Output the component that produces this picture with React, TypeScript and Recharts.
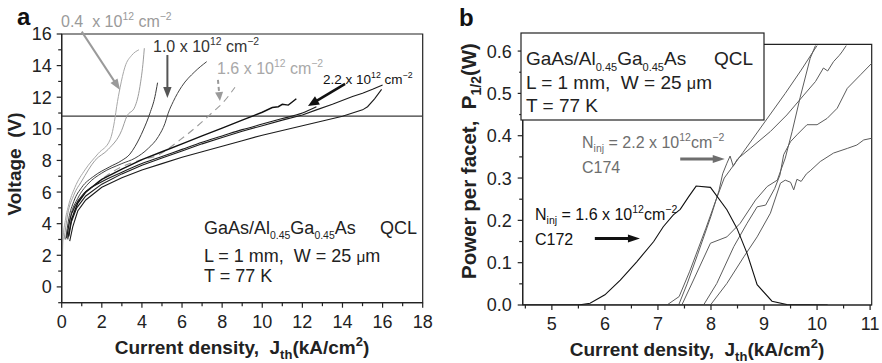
import React from 'react';
import { LineChart, Line, XAxis, YAxis, ReferenceLine, ReferenceArea } from 'recharts';

// ---------- Panel a: voltage vs current density (J in kA/cm², V in volts) ----------
const a04first = [[0.02, 1.0], [0.06, 2.9], [0.18, 4.2], [0.33, 5.1], [0.66, 6.3], [1.16, 7.4], [1.83, 8.45], [2.41, 9.3], [2.66, 10.7], [2.74, 11.4], [2.91, 12.6], [3.15, 13.9], [3.49, 14.65], [3.85, 15.0]];
const a04second = [[0.12, 3.0], [0.3, 4.6], [0.6, 5.8], [1.0, 6.7], [1.66, 8.0], [2.32, 8.7], [2.99, 9.9], [3.24, 10.77], [3.65, 11.4], [3.9, 12.67], [4.07, 14.36], [4.12, 15.1]];
const a10first = [[0.2, 3.0], [0.35, 4.3], [0.6, 5.4], [1.0, 6.3], [1.6, 7.0], [2.4, 7.6], [3.0, 8.0], [3.4, 8.4], [3.65, 8.87], [4.07, 9.93], [4.4, 10.99], [4.65, 12.04], [4.78, 12.92]];
const a10second = [[0.25, 3.1], [0.45, 4.5], [0.8, 5.6], [1.3, 6.5], [2.0, 7.2], [3.0, 7.8], [3.65, 8.14], [4.32, 8.77], [4.82, 9.51], [5.15, 10.35], [5.31, 10.99], [5.56, 11.72], [5.98, 12.67], [6.64, 13.62], [7.23, 14.25]];
const a16 = [[0.3, 3.2], [0.5, 4.5], [0.9, 5.5], [1.5, 6.3], [2.2, 7.0], [3.0, 7.6], [4.0, 8.05], [4.74, 8.3], [5.9, 9.3], [6.73, 10.14], [7.56, 11.09], [8.0, 11.6], [8.64, 12.63]];
const a22first = [[0.35, 3.2], [0.5, 4.3], [0.8, 5.3], [1.2, 6.0], [2, 6.8], [3, 7.45], [4, 8.05], [5, 8.55], [6, 9.05], [7, 9.55], [8, 10.05], [9, 10.55], [10, 11.05], [10.5, 11.35], [10.8, 11.4], [11.0, 11.55], [11.3, 11.5], [11.7, 11.9]];
const a22second = [[0.25, 3.1], [0.4, 4.2], [0.7, 5.2], [1.1, 5.9], [2, 6.65], [3, 7.25], [4, 7.8], [5, 8.25], [6, 8.7], [7, 9.15], [8, 9.55], [9, 9.95], [10, 10.3], [11, 10.65], [12, 11.0], [12.7, 11.4]];
const a22third = [[0.3, 3.0], [0.45, 4.0], [0.75, 5.0], [1.2, 5.75], [2, 6.5], [3, 7.15], [4, 7.7], [5, 8.15], [6, 8.6], [7, 9.05], [8, 9.45], [9, 9.85], [10, 10.2], [11, 10.55], [12, 10.88], [12.7, 11.2], [13.5, 11.55], [14.5, 12.05], [15, 12.25], [15.5, 12.5], [16, 12.78]];
const a22fourth = [[0.4, 2.9], [0.55, 3.8], [0.8, 4.8], [1.2, 5.5], [2, 6.3], [3, 6.9], [4, 7.4], [5, 7.8], [6, 8.2], [7, 8.55], [8, 8.9], [9, 9.25], [10, 9.6], [11, 9.9], [12, 10.2], [13, 10.5], [14, 10.8], [15, 11.2], [15.25, 11.4], [15.6, 11.9], [15.95, 12.5]];
const aThresholdVoltage = 10.8;

const aXTicks = [0, 1, 2, 3, 4, 5, 6, 7, 8, 9, 10, 11, 12, 13, 14, 15, 16, 17, 18];
const aYTicks = [-1, 0, 1, 2, 3, 4, 5, 6, 7, 8, 9, 10, 11, 12, 13, 14, 15, 16];

// ---------- Panel b: power per facet vs current density ----------
const bC172 = [[4.45, 0], [5.5, 0], [5.72, 0.004], [6.0, 0.024], [6.29, 0.059], [6.6, 0.102], [6.92, 0.15], [7.1, 0.185], [7.29, 0.213], [7.42, 0.226], [7.58, 0.256], [7.72, 0.281], [7.99, 0.278], [8.3, 0.225], [8.49, 0.181], [8.68, 0.122], [8.87, 0.048], [9.15, 0.009], [9.43, 0.001], [10.2, 0]];
const bC174first = [[4.45, 0], [7.17, 0], [7.4, 0.02], [7.6, 0.08], [7.9, 0.18], [8.1, 0.25], [8.25, 0.3], [8.6, 0.36], [9.0, 0.43], [9.4, 0.5], [9.7, 0.555], [10.0, 0.613]];
const bC174second = [[4.45, 0], [7.39, 0], [7.55, 0.05], [7.75, 0.12], [8.0, 0.21], [8.15, 0.27], [8.22, 0.31], [8.3, 0.335], [8.36, 0.352], [8.42, 0.328], [8.5, 0.345], [8.74, 0.37], [9.12, 0.41], [9.43, 0.449], [9.75, 0.496], [9.97, 0.528], [10.12, 0.56], [10.2, 0.553], [10.31, 0.575], [10.42, 0.59], [10.47, 0.598], [10.55, 0.613]];
const bC174third = [[4.45, 0], [7.45, 0], [7.67, 0.059], [7.99, 0.146], [8.3, 0.161], [8.55, 0.193], [8.84, 0.248], [9.06, 0.28], [9.25, 0.295], [9.4, 0.347], [9.53, 0.41], [9.68, 0.49], [9.87, 0.583], [9.97, 0.613]];
const bC174fourth = [[4.45, 0], [7.86, 0], [8.11, 0.051], [8.43, 0.138], [8.68, 0.193], [8.87, 0.232], [9.03, 0.236], [9.2, 0.275], [9.3, 0.307], [9.37, 0.355], [9.5, 0.386], [9.62, 0.402], [9.81, 0.426], [10.0, 0.426], [10.19, 0.441], [10.38, 0.465], [10.57, 0.512], [10.82, 0.544], [11.03, 0.571]];
const bC174fifth = [[4.45, 0], [7.99, 0], [8.3, 0.051], [8.62, 0.114], [8.87, 0.161], [9.12, 0.217], [9.31, 0.288], [9.4, 0.295], [9.5, 0.29], [9.56, 0.272], [9.62, 0.297], [9.7, 0.292], [9.8, 0.31], [9.87, 0.317], [10.06, 0.339], [10.31, 0.359], [10.57, 0.37], [10.75, 0.378], [10.88, 0.39], [11.03, 0.394]];

const bXTicks = [4.5, 5, 5.5, 6, 6.5, 7, 7.5, 8, 8.5, 9, 9.5, 10, 10.5, 11];
const bYTicks = [0, 0.05, 0.1, 0.15, 0.2, 0.25, 0.3, 0.35, 0.4, 0.45, 0.5, 0.55, 0.6];

// ---------- layout ----------
const W = 882;
const H = 363;
const FONT = '"Liberation Sans", Arial, Helvetica, sans-serif';
const INK = '#222';
const AXIS_T = 1; // thickness reserved for each axis band

const A_DOM_X: [number, number] = [0, 18];
const A_DOM_Y: [number, number] = [-1, 16];
const A_BOX = { left: 61.7, top: 34, right: 422.7, bottom: 302.7 };
const A_W = 440;

const B_DOM_X: [number, number] = [4.45, 11.03];
const B_DOM_Y: [number, number] = [0, 0.616];
const B_BOX = { left: 522.7, top: 44.3, right: 871.7, bottom: 305 };
const B_LEFT = 440;
const B_W = W - B_LEFT;

type Pt = { x: number; y: number };
const pts = (arr: number[][]): Pt[] => arr.map(([x, y]) => ({ x, y }));

// data -> page pixel helpers for annotation arrows
const mapA = (x: number, y: number) => ({
  px: A_BOX.left + ((x - A_DOM_X[0]) / (A_DOM_X[1] - A_DOM_X[0])) * (A_BOX.right - A_BOX.left),
  py: A_BOX.bottom - ((y - A_DOM_Y[0]) / (A_DOM_Y[1] - A_DOM_Y[0])) * (A_BOX.bottom - A_BOX.top),
});
const mapB = (x: number, y: number) => ({
  px: B_BOX.left + ((x - B_DOM_X[0]) / (B_DOM_X[1] - B_DOM_X[0])) * (B_BOX.right - B_BOX.left),
  py: B_BOX.bottom - ((y - B_DOM_Y[0]) / (B_DOM_Y[1] - B_DOM_Y[0])) * (B_BOX.bottom - B_BOX.top),
});

const near = (v: number, step: number) => Math.abs(v / step - Math.round(v / step)) < 1e-6;

function makeXTick(isMajor: (v: number) => boolean, fmt: (v: number) => string) {
  return (props: any) => {
    const { x, y, payload } = props;
    const v = payload.value as number;
    const major = isMajor(v);
    return (
      <g>
        <line x1={x} y1={y} x2={x} y2={y + (major ? 5 : 3.5)} stroke={INK} strokeWidth={1.2} />
        {major && (
          <text x={x} y={y + 25} textAnchor="middle" fontSize={18} fontFamily={FONT} fill={INK}>
            {fmt(v)}
          </text>
        )}
      </g>
    );
  };
}

function makeYTick(isMajor: (v: number) => boolean, fmt: (v: number) => string, gap: number) {
  return (props: any) => {
    const { x, y, payload } = props;
    const v = payload.value as number;
    const major = isMajor(v);
    return (
      <g>
        <line x1={x} y1={y} x2={x - (major ? 5 : 3.5)} y2={y} stroke={INK} strokeWidth={1.2} />
        {major && (
          <text x={x - gap} y={y} dy="0.36em" textAnchor="end" fontSize={18} fontFamily={FONT} fill={INK}>
            {fmt(v)}
          </text>
        )}
      </g>
    );
  };
}

function Arrow(props: { x1: number; y1: number; x2: number; y2: number; color: string; width: number; head?: number; half?: number; dash?: string }) {
  const { x1, y1, x2, y2, color, width, head = 10, half = 4, dash } = props;
  const dx = x2 - x1;
  const dy = y2 - y1;
  const len = Math.hypot(dx, dy);
  const ux = dx / len;
  const uy = dy / len;
  const bx = x2 - ux * head;
  const by = y2 - uy * head;
  const nx = -uy * half;
  const ny = ux * half;
  return (
    <g>
      <line x1={x1} y1={y1} x2={bx + ux} y2={by + uy} stroke={color} strokeWidth={width} strokeDasharray={dash} />
      <polygon points={`${x2},${y2} ${bx + nx},${by + ny} ${bx - nx},${by - ny}`} fill={color} />
    </g>
  );
}

function DataArrow(props: { map: (x: number, y: number) => { px: number; py: number }; from: [number, number]; to: [number, number]; color: string; width: number; head?: number; half?: number; dash?: string }) {
  const a = props.map(props.from[0], props.from[1]);
  const b = props.map(props.to[0], props.to[1]);
  return <Arrow x1={a.px} y1={a.py} x2={b.px} y2={b.py} color={props.color} width={props.width} head={props.head} half={props.half} dash={props.dash} />;
}

function Density(props: { x: number; y: number; lead: string; fill: string; size: number; gap?: string }) {
  const { x, y, lead, fill, size, gap = ' ' } = props;
  const sup = size * 0.65;
  const up = size * 0.42;
  return (
    <text x={x} y={y} fontSize={size} fontFamily={FONT} fill={fill} style={{ whiteSpace: 'pre' }}>
      {lead}
      {gap}x 10
      <tspan fontSize={sup} dy={-up}>12</tspan>
      <tspan fontSize={size} dy={up}> cm</tspan>
      <tspan fontSize={sup} dy={-up}>−2</tspan>
    </text>
  );
}

function Ninj(props: { x: number; y: number; value: string; fill: string }) {
  const { x, y, value, fill } = props;
  const size = 16;
  const small = 10.5;
  return (
    <text x={x} y={y} fontSize={size} fontFamily={FONT} fill={fill} style={{ whiteSpace: 'pre' }}>
      N
      <tspan fontSize={small} dy={4}>inj</tspan>
      <tspan fontSize={size} dy={-4}>{` = ${value} x 10`}</tspan>
      <tspan fontSize={small} dy={-7}>12</tspan>
      <tspan fontSize={size} dy={7}>cm</tspan>
      <tspan fontSize={small} dy={-7}>−2</tspan>
    </text>
  );
}

function Material(props: { x: number; y: number; size: number; qclEnd: number }) {
  const { x, y, size, qclEnd } = props;
  const sub = size * 0.58;
  const down = size * 0.3;
  return (
    <g fontFamily={FONT} fill={INK}>
      <text x={x} y={y} fontSize={size}>
        GaAs/Al
        <tspan fontSize={sub} dy={down}>0.45</tspan>
        <tspan fontSize={size} dy={-down}>Ga</tspan>
        <tspan fontSize={sub} dy={down}>0.45</tspan>
        <tspan fontSize={size} dy={-down}>As</tspan>
      </text>
      <text x={qclEnd} y={y} fontSize={size} textAnchor="end">QCL</text>
    </g>
  );
}

function DeviceText(props: { x: number; y: number[]; size: number; qclEnd: number }) {
  const { x, y, size, qclEnd } = props;
  return (
    <g>
      <Material x={x} y={y[0]} size={size} qclEnd={qclEnd} />
      <text x={x} y={y[1]} fontSize={size} fontFamily={FONT} fill={INK} style={{ whiteSpace: 'pre' }}>
        {'L = 1 mm,  W = 25 '}
        <tspan fontSize={size * 0.85}>μ</tspan>m
      </text>
      <text x={x} y={y[2]} fontSize={size} fontFamily={FONT} fill={INK}>T = 77 K</text>
    </g>
  );
}

function XTitle(props: { cx: number; y: number }) {
  const size = 19;
  return (
    <text x={props.cx} y={props.y} textAnchor="middle" fontSize={size} fontWeight="bold" fontFamily={FONT} fill={INK} style={{ whiteSpace: 'pre' }}>
      {'Current density,  J'}
      <tspan fontSize={13} dy={5}>th</tspan>
      <tspan fontSize={size} dy={-5}>(kA/cm</tspan>
      <tspan fontSize={13} dy={-8}>2</tspan>
      <tspan fontSize={size} dy={8}>)</tspan>
    </text>
  );
}

const lineProps = { type: 'monotone' as const, dataKey: 'y', dot: false, isAnimationActive: false, activeDot: false };

function axisProps(dom: [number, number], ticks: number[]) {
  return {
    type: 'number' as const,
    domain: dom,
    allowDataOverflow: true,
    ticks,
    interval: 0 as const,
    tickLine: false,
    tickSize: 0,
    tickMargin: 0,
    axisLine: { stroke: INK, strokeWidth: 1.2 },
  };
}

function PanelA() {
  const margin = { top: A_BOX.top, left: A_BOX.left - AXIS_T, right: A_W - A_BOX.right, bottom: H - A_BOX.bottom - AXIS_T };
  return (
    <LineChart width={A_W} height={H} margin={margin}>
      <XAxis {...axisProps(A_DOM_X, aXTicks)} dataKey="x" height={AXIS_T} tick={makeXTick((v) => near(v, 2), (v) => String(v))} />
      <YAxis {...axisProps(A_DOM_Y, aYTicks)} width={AXIS_T} tick={makeYTick((v) => near(v, 2), (v) => String(v), 10)} />
      <ReferenceArea x1={A_DOM_X[0]} x2={A_DOM_X[1]} y1={A_DOM_Y[0]} y2={A_DOM_Y[1]} fill="none" stroke={INK} strokeWidth={1.2} />
      <ReferenceLine y={aThresholdVoltage} stroke="#3a3a3a" strokeWidth={1.2} />
      <Line {...lineProps} data={pts(a04first)} stroke="#a8a8a8" strokeWidth={1} />
      <Line {...lineProps} data={pts(a04second)} stroke="#9c9c9c" strokeWidth={1} />
      <Line {...lineProps} data={pts(a10first)} stroke="#3c3c3c" strokeWidth={1} />
      <Line {...lineProps} data={pts(a10second)} stroke="#444" strokeWidth={1} />
      <Line {...lineProps} data={pts(a16)} stroke="#9a9a9a" strokeWidth={1.1} strokeDasharray="7 5" />
      <Line {...lineProps} data={pts(a22first)} stroke="#111" strokeWidth={1.4} type="linear" />
      <Line {...lineProps} data={pts(a22second)} stroke="#1c1c1c" strokeWidth={1.1} />
      <Line {...lineProps} data={pts(a22third)} stroke="#1c1c1c" strokeWidth={1.1} type="linear" />
      <Line {...lineProps} data={pts(a22fourth)} stroke="#1c1c1c" strokeWidth={1.1} type="linear" />
    </LineChart>
  );
}

function PanelB() {
  const margin = { top: B_BOX.top, left: B_BOX.left - B_LEFT - AXIS_T, right: W - B_BOX.right, bottom: H - B_BOX.bottom - AXIS_T };
  const gray = '#5c5c5c';
  const lp = { ...lineProps, type: 'linear' as const };
  return (
    <LineChart width={B_W} height={H} margin={margin}>
      <XAxis {...axisProps(B_DOM_X, bXTicks)} dataKey="x" height={AXIS_T} tick={makeXTick((v) => near(v, 1), (v) => String(v))} />
      <YAxis {...axisProps(B_DOM_Y, bYTicks)} width={AXIS_T} tick={makeYTick((v) => near(v, 0.1), (v) => v.toFixed(1), 11)} />
      <ReferenceArea x1={B_DOM_X[0]} x2={B_DOM_X[1]} y1={B_DOM_Y[0]} y2={B_DOM_Y[1]} fill="none" stroke={INK} strokeWidth={1.2} />
      <Line {...lp} data={pts(bC174first)} stroke={gray} strokeWidth={1} />
      <Line {...lp} data={pts(bC174second)} stroke={gray} strokeWidth={1} />
      <Line {...lp} data={pts(bC174third)} stroke={gray} strokeWidth={1} />
      <Line {...lp} data={pts(bC174fourth)} stroke={gray} strokeWidth={1} />
      <Line {...lp} data={pts(bC174fifth)} stroke={gray} strokeWidth={1} />
      <Line {...lp} data={pts(bC172)} stroke="#111" strokeWidth={1.1} />
    </LineChart>
  );
}

function Annotations() {
  return (
    <svg width={W} height={H} style={{ position: 'absolute', left: 0, top: 0, pointerEvents: 'none' }}>
      {/* panel letters */}
      <text x={17} y={25} fontSize={24} fontWeight="bold" fontFamily={FONT} fill="#111">a</text>
      <text x={459} y={26} fontSize={24} fontWeight="bold" fontFamily={FONT} fill="#111">b</text>

      {/* axis titles */}
      <text x={21} y={164} transform="rotate(-90 21 164)" textAnchor="middle" fontSize={19} fontWeight="bold" fontFamily={FONT} fill={INK} style={{ whiteSpace: 'pre' }}>
        {'Voltage  (V)'}
      </text>
      <XTitle cx={242} y={354} />
      <text x={476} y={161} transform="rotate(-90 476 161)" textAnchor="middle" fontSize={20.5} fontWeight="bold" fontFamily={FONT} fill={INK} style={{ whiteSpace: 'pre' }}>
        {'Power per facet,  P'}
        <tspan fontSize={14} dy={5}>1/2</tspan>
        <tspan fontSize={20.5} dy={-5}>(W)</tspan>
      </text>
      <XTitle cx={697} y={356} />

      {/* panel a: sheet density labels */}
      <Density x={61} y={27} lead="0.4" gap="  " fill="#9a9a9a" size={16} />
      <DataArrow map={mapA} from={[1.0, 16.15]} to={[2.91, 12.46]} color="#9a9a9a" width={2} head={11} half={4.2} />
      <Density x={153} y={52} lead="1.0" fill="#333" size={16} />
      <DataArrow map={mapA} from={[5.27, 14.67]} to={[5.27, 11.95]} color="#555" width={2} head={11} half={4.2} />
      <Density x={217} y={74} lead="1.6" fill="#a8a8a8" size={16} />
      <DataArrow map={mapA} from={[7.79, 13.1]} to={[7.89, 11.76]} color="#9a9a9a" width={2} head={9} half={4} dash="4 3" />
      <Density x={323} y={84} lead="2.2" fill="#111" size={13.5} />
      <DataArrow map={mapA} from={[14.13, 12.84]} to={[12.28, 11.45]} color="#111" width={2.6} head={11} half={4.8} />

      {/* panel a: device description */}
      <DeviceText x={204} y={[233.5, 262, 282]} size={18} qclEnd={417} />

      {/* panel b: device description box */}
      <rect x={521} y={33} width={243} height={87} fill="#fff" stroke={INK} strokeWidth={1.2} />
      <DeviceText x={526} y={[65, 89, 112]} size={19} qclEnd={753} />

      {/* panel b: injector density labels */}
      <Ninj x={582} y={148} value="2.2" fill="#6e6e6e" />
      <text x={582} y={173} fontSize={16} fontFamily={FONT} fill="#6e6e6e">C174</text>
      <DataArrow map={mapB} from={[7.42, 0.345]} to={[8.26, 0.345]} color="#6e6e6e" width={3} head={12} half={4} />
      <Ninj x={535} y={220} value="1.6" fill="#111" />
      <text x={535} y={245} fontSize={16} fontFamily={FONT} fill="#111">C172</text>
      <DataArrow map={mapB} from={[5.81, 0.157]} to={[6.66, 0.157]} color="#111" width={3} head={12} half={4} />
    </svg>
  );
}

export default function App() {
  return (
    <div style={{ position: 'absolute', left: 0, top: 0, width: W, height: H, background: '#fff', overflow: 'hidden' }}>
      <div style={{ position: 'absolute', left: 0, top: 0 }}>
        <PanelA />
      </div>
      <div style={{ position: 'absolute', left: B_LEFT, top: 0 }}>
        <PanelB />
      </div>
      <Annotations />
    </div>
  );
}
